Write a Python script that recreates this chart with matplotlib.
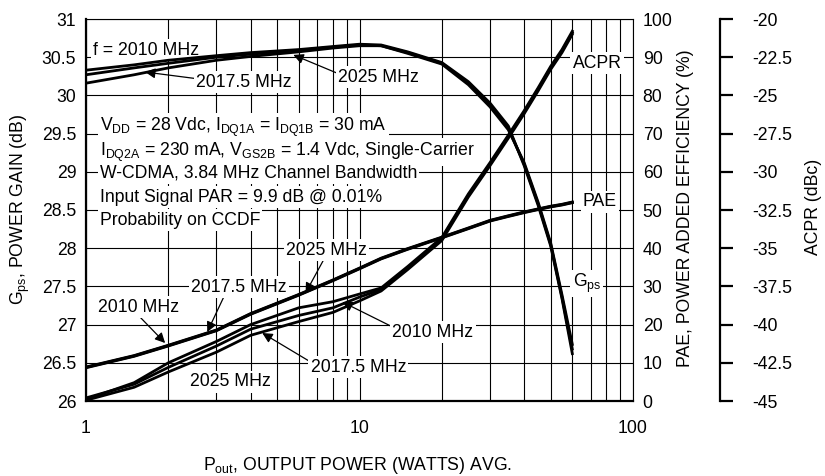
import numpy as np
import matplotlib.pyplot as plt
from matplotlib.ticker import LogLocator, NullFormatter

plt.rcParams['font.family'] = ['Liberation Sans', 'DejaVu Sans']
plt.rcParams['mathtext.default'] = 'regular'
plt.rcParams['axes.unicode_minus'] = False

# output power (W)
pout = [1, 1.5, 2, 3, 4, 6, 8, 10, 12, 15, 20, 25, 30, 35, 40, 45, 50, 55, 60]

# power gain (dB)
gps_2010 = [30.33, 30.40, 30.46, 30.52, 30.56, 30.60, 30.64, 30.67, 30.66, 30.57,
            30.43, 30.18, 29.90, 29.60, 29.08, 28.56, 28.03, 27.34, 26.62]
gps_2017 = [30.27, 30.36, 30.42, 30.50, 30.54, 30.59, 30.63, 30.66, 30.65, 30.56,
            30.42, 30.16, 29.88, 29.57, 29.10, 28.58, 28.05, 27.36, 26.68]
gps_2025 = [30.16, 30.27, 30.36, 30.46, 30.51, 30.57, 30.62, 30.65, 30.65, 30.55,
            30.41, 30.14, 29.85, 29.55, 29.12, 28.60, 28.07, 27.39, 26.74]

# power added efficiency (%)
pae_2010 = [8.9, 11.9, 14.6, 18.6, 22.9, 27.9, 31.7, 34.8, 37.4, 39.9,
            42.9, 45.3, 47.3, 48.5, 49.5, 50.3, 51.0, 51.5, 52.1]
pae_2017 = [8.8, 11.8, 14.5, 18.5, 22.8, 27.8, 31.6, 34.7, 37.3, 39.8,
            42.8, 45.2, 47.2, 48.4, 49.4, 50.2, 50.9, 51.4, 52.0]
pae_2025 = [8.7, 11.7, 14.4, 18.4, 22.7, 27.7, 31.5, 34.6, 37.2, 39.7,
            42.7, 45.1, 47.1, 48.3, 49.3, 50.1, 50.8, 51.3, 51.9]

# adjacent channel power ratio (dBc)
acpr_2010 = [-44.9, -43.8, -42.5, -41.1, -40.0, -38.9, -38.5, -38.0, -37.6, -36.2,
             -34.3, -31.45, -29.4, -27.6, -26.0, -24.5, -23.1, -22.0, -20.8]
acpr_2017 = [-44.8, -43.9, -42.8, -41.4, -40.3, -39.4, -38.9, -38.2, -37.7, -36.3,
             -34.4, -31.55, -29.5, -27.7, -26.1, -24.6, -23.2, -22.1, -20.9]
acpr_2025 = [-44.95, -44.1, -43.1, -41.8, -40.7, -39.8, -39.2, -38.45, -37.8, -36.4,
             -34.5, -31.65, -29.6, -27.8, -26.2, -24.7, -23.3, -22.2, -21.0]

gps_ticks = np.arange(26, 31.01, 0.5)
gps_labels = ['26', '26.5', '27', '27.5', '28', '28.5', '29', '29.5', '30', '30.5', '31']
pae_ticks = np.arange(0, 101, 10)
acpr_ticks = np.arange(-45, -19.9, 2.5)
acpr_labels = ['-45', '-42.5', '-40', '-37.5', '-35', '-32.5', '-30', '-27.5', '-25', '-22.5', '-20']

fs = 12.7
fig = plt.figure(figsize=(8.25, 4.76), dpi=100)
ax = fig.add_axes([86 / 825, 1 - 401 / 476, 547 / 825, 382 / 476])
ax.set_xscale('log')
ax.set_xlim(1, 100)
ax.set_ylim(26, 31)
ax.set_yticks(gps_ticks, gps_labels)
ax.set_xticks([1, 10, 100], ['1', '10', '100'])
ax.xaxis.set_minor_locator(LogLocator(subs=range(2, 10)))
ax.xaxis.set_minor_formatter(NullFormatter())
ax.tick_params(which='both', length=0, labelsize=fs)
ax.tick_params(axis='y', pad=7)
ax.tick_params(axis='x', pad=14)
ax.grid(which='both', axis='x', color='k', lw=0.8)
ax.grid(which='major', axis='y', color='k', lw=0.8)
for s, w in [('left', 1.6), ('bottom', 1.6), ('top', 0.8), ('right', 0.8)]:
    ax.spines[s].set_linewidth(w)

ax2 = ax.twinx()
ax2.set_ylim(0, 100)
ax2.set_yticks(pae_ticks)
ax2.tick_params(length=0, pad=7, labelsize=fs)
for s in ax2.spines.values():
    s.set_visible(False)

ax3 = ax.twinx()
ax3.set_ylim(-45, -20)
ax3.set_yticks(acpr_ticks, acpr_labels)
ax3.spines['right'].set_position(('axes', 1.159))
ax3.spines['right'].set_linewidth(1.6)
for s in ['left', 'top', 'bottom']:
    ax3.spines[s].set_visible(False)
ax3.tick_params(direction='out', length=9.5, width=1.6, pad=14, labelsize=fs)

lw = 2.0
for g in [gps_2010, gps_2017, gps_2025]:
    ax.plot(pout, g, color='k', lw=lw, zorder=6)
for p in [pae_2010, pae_2017, pae_2025]:
    ax2.plot(pout, p, color='k', lw=lw, zorder=3)
for a in [acpr_2010, acpr_2017, acpr_2025]:
    ax3.plot(pout, a, color='k', lw=lw, zorder=3)

box = dict(facecolor='white', edgecolor='none', pad=1.5)


def label(x, y, s):
    ax.text(x, y, s, fontsize=fs, ha='left', va='center', bbox=box, zorder=4)


def arrow_label(x, y, s, tip, rel):
    ax.annotate(s, xy=tip, xytext=(x, y), fontsize=fs, ha='left', va='center',
                bbox=box, zorder=4,
                arrowprops=dict(arrowstyle='-|>', color='k', lw=0.9, mutation_scale=15,
                                shrinkA=0, shrinkB=0, relpos=rel))


label(1.06, 30.594, 'f = 2010 MHz')
arrow_label(2.53, 30.175, '2017.5 MHz', (1.645, 30.306), (0, 0.7))
arrow_label(8.37, 30.24, '2025 MHz', (5.73, 30.53), (0, 0.7))

info = ['V$_{DD}$ = 28 Vdc, I$_{DQ1A}$ = I$_{DQ1B}$ = 30 mA',
        'I$_{DQ2A}$ = 230 mA, V$_{GS2B}$ = 1.4 Vdc, Single-Carrier',
        'W-CDMA, 3.84 MHz Channel Bandwidth',
        'Input Signal PAR = 9.9 dB @ 0.01%',
        'Probability on CCDF']
for s, y in zip(info, [29.586, 29.259, 28.984, 28.670, 28.369]):
    label(1.125, y, s)

label(60.1, 30.424, 'ACPR')
label(65.6, 28.605, 'PAE')
label(60.1, 27.54, 'G$_{ps}$')

arrow_label(5.40, 27.976, '2025 MHz', (6.35, 27.414), (0.47, 0))
arrow_label(2.42, 27.492, '2017.5 MHz', (2.776, 26.903), (0.35, 0))
arrow_label(1.106, 27.23, '2010 MHz', (1.947, 26.759), (0.5, 0))
arrow_label(13.2, 26.903, '2010 MHz', (8.66, 27.296), (0, 0.8))
arrow_label(6.62, 26.445, '2017.5 MHz', (4.41, 26.89), (0, 0.8))
label(2.40, 26.249, '2025 MHz')

fig.text(20 / 825, 1 - 210 / 476, 'G$_{ps}$, POWER GAIN (dB)', rotation=90,
         ha='center', va='center', fontsize=fs)
fig.text(685 / 825, 1 - 208 / 476, 'PAE, POWER ADDED EFFICIENCY (%)', rotation=90,
         ha='center', va='center', fontsize=fs)
fig.text(814 / 825, 1 - 207 / 476, 'ACPR (dBc)', rotation=90,
         ha='center', va='center', fontsize=fs)
fig.text(357 / 825, 1 - 470 / 476, 'P$_{out}$, OUTPUT POWER (WATTS) AVG.',
         ha='center', va='baseline', fontsize=fs)

fig.savefig('out.png', dpi=100)
